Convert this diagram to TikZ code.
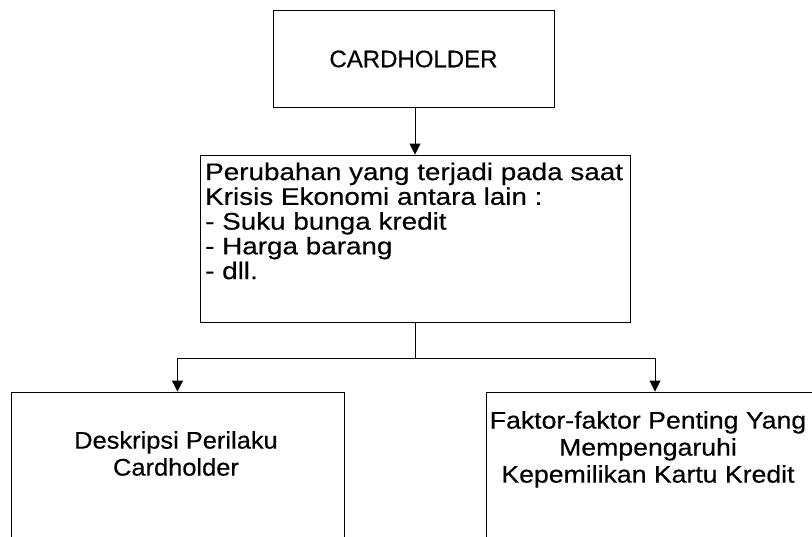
\documentclass[tikz,border=0pt]{standalone}
\usepackage{fontspec}
\setmainfont{Liberation Sans}
\newfontfamily\fcard[FakeBold=0.4]{Liberation Sans}
\newfontfamily\fmid[FakeStretch=1.16,FakeBold=0.4]{Liberation Sans}
\newfontfamily\fleft[FakeStretch=1.06,FakeBold=0.4]{Liberation Sans}
\newfontfamily\fright[FakeStretch=1.11,FakeBold=0.4]{Liberation Sans}
\usetikzlibrary{arrows.meta}
\begin{document}
\begin{tikzpicture}[x=1pt,y=-1pt,
  box/.style={draw=black, line width=0.9pt, inner sep=0pt, rectangle},
  arr/.style={-{Triangle[width=11pt,length=11pt]}, line width=0.9pt},
  line/.style={line width=0.9pt},
  txt/.style={inner sep=0pt}]
\clip (0,0) rectangle (812,536);
\node[box, minimum width=281pt, minimum height=97pt] (card) at (413.5,58.5) {};
\node[txt, font=\fcard\fontsize{24}{27}\selectfont] (cardt) at (413.5,59) {CARDHOLDER};
\node[box, minimum width=430pt, minimum height=167pt] (mid) at (415,238.5) {};
\node[txt, anchor=north west, align=left, font=\fmid\fontsize{24}{24.75}\selectfont] (midt) at (205,162.5)
  {Perubahan yang terjadi pada saat\\Krisis Ekonomi antara lain :\\- Suku bunga kredit\\- Harga barang\\- dll.};
\node[box, minimum width=333pt, minimum height=300pt] (left) at (177.5,542) {};
\node[txt, anchor=north, align=center, font=\fleft\fontsize{24}{27}\selectfont] (leftt) at (176,431)
  {Deskripsi Perilaku\\Cardholder};
\node[box, minimum width=338pt, minimum height=300pt] (right) at (655,542) {};
\node[txt, anchor=north, align=center, font=\fright\fontsize{24}{27}\selectfont] (rightt) at (648,411)
  {Faktor-faktor Penting Yang\\Mempengaruhi\\Kepemilikan Kartu Kredit};
\draw[arr] (mid.north |- card.south) -- (mid.north);
\coordinate (j) at (415,358);
\draw[line] (mid.south) -- (j);
\draw[arr] (j) -| (left.north);
\draw[arr] (j) -| (right.north);
\end{tikzpicture}
\end{document}
